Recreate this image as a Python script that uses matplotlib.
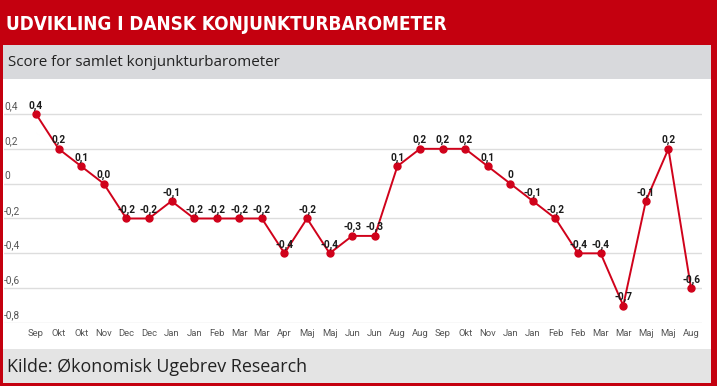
import matplotlib
matplotlib.use("Agg")
import matplotlib.pyplot as plt
from matplotlib.patches import Rectangle
from matplotlib.transforms import blended_transform_factory

W, H = 717, 386

# data
months = ["Sep", "Okt", "Okt", "Nov", "Dec", "Dec", "Jan", "Jan", "Feb", "Mar",
          "Mar", "Apr", "Maj", "Maj", "Jun", "Jun", "Aug", "Aug", "Sep", "Okt",
          "Nov", "Jan", "Jan", "Feb", "Feb", "Mar", "Mar", "Maj", "Maj", "Aug"]
score = [0.4, 0.2, 0.1, 0.0, -0.2, -0.2, -0.1, -0.2, -0.2, -0.2,
         -0.2, -0.4, -0.2, -0.4, -0.3, -0.3, 0.1, 0.2, 0.2, 0.2,
         0.1, 0.0, -0.1, -0.2, -0.4, -0.4, -0.7, -0.1, 0.2, -0.6]
point_labels = ["0,4", "0,2", "0,1", "0,0", "-0,2", "-0,2", "-0,1", "-0,2", "-0,2", "-0,2",
                "-0,2", "-0,4", "-0,2", "-0,4", "-0,3", "-0,3", "0,1", "0,2", "0,2", "0,2",
                "0,1", "0", "-0,1", "-0,2", "-0,4", "-0,4", "-0,7", "-0,1", "0,2", "-0,6"]
y_ticks = [0.4, 0.2, 0.0, -0.2, -0.4, -0.6, -0.8]
y_tick_labels = ["0,4", "0,2", "0", "-0,2", "-0,4", "-0,6", "-0,8"]

title = "UDVIKLING I DANSK KONJUNKTURBAROMETER"
subtitle = "Score for samlet konjunkturbarometer"
source = "Kilde: Økonomisk Ugebrev Research"

red = "#c4000f"
line_red = "#d0021b"


def box(x0, y0, x1, y1):
    # pixel box (top-left origin) -> figure fractions
    return (x0 / W, 1 - y1 / H), (x1 - x0) / W, (y1 - y0) / H


fig = plt.figure(figsize=(W / 100, H / 100), dpi=100)
fig.patch.set_facecolor("white")

for (x0, y0, x1, y1, c) in [(0, 0, W, 45, red), (0, 45, W, 79, "#d8d9dc"),
                            (0, 349, W, H, "#e4e4e4")]:
    xy, w, h = box(x0, y0, x1, y1)
    fig.patches.append(Rectangle(xy, w, h, transform=fig.transFigure,
                                 facecolor=c, edgecolor="none", zorder=0))
# red frame
for (x0, y0, x1, y1) in [(0, 0, 3, H), (711, 0, W, H), (0, 383, W, H)]:
    xy, w, h = box(x0, y0, x1, y1)
    fig.patches.append(Rectangle(xy, w, h, transform=fig.transFigure,
                                 facecolor=red, edgecolor="none", zorder=5))

ttl = fig.text(6 / W, 1 - 25 / H, title, color="white", fontsize=22, fontweight="bold",
               fontstretch="condensed", family=["Liberation Sans Narrow", "DejaVu Sans"],
               va="center", ha="left")
# shrink the title to the width it has in the original (about 440 px)
fig.canvas.draw()
tw = ttl.get_window_extent().width
if tw > 440:
    ttl.set_fontsize(22 * 440 / tw)

fig.text(8 / W, 1 - 62 / H, subtitle, color="#222222", fontsize=10.9,
         family=["Open Sans", "DejaVu Sans"], va="center", ha="left")
fig.text(7 / W, 1 - 367 / H, source, color="#222222", fontsize=12.9,
         family=["Open Sans", "DejaVu Sans"], va="center", ha="left")

ax = fig.add_axes([4 / W, 1 - 323 / H, (702 - 4) / W, (323 - 85) / H])
ax.set_facecolor("none")
x = list(range(len(score)))
ax.plot(x, score, color=line_red, lw=1.4, marker="o", ms=5,
        markerfacecolor=line_red, markeredgecolor=line_red, zorder=3)

for xi, yi, lab in zip(x, score, point_labels):
    ax.annotate(lab, (xi, yi), xytext=(0, 2.5), textcoords="offset points",
                ha="center", va="bottom", fontsize=7.3, color="#1a1a1a",
                family=["Roboto", "DejaVu Sans"], fontweight="bold", zorder=4)

ax.set_xlim(-32 / 22.59, 29 + 11 / 22.59)
ax.set_ylim(-0.8, 0.4 + 29 / 174.2)
ax.set_yticks(y_ticks)
ax.set_yticklabels([])
ax.grid(axis="y", color="#dddddd", lw=1)
ax.set_axisbelow(True)
ax.tick_params(axis="y", length=0)
trans = blended_transform_factory(ax.transAxes, ax.transData)
for yv, lab in zip(y_ticks, y_tick_labels):
    ax.annotate(lab, (0, yv), xycoords=trans, xytext=(0, 2), textcoords="offset points",
                ha="left", va="bottom", fontsize=7.3, color="#555555",
                family=["Roboto", "DejaVu Sans"])

ax.set_xticks(x)
ax.set_xticklabels(months, fontsize=6.8, color="#555555", family=["Roboto", "DejaVu Sans"])
ax.tick_params(axis="x", length=0, pad=4)
for s in ax.spines.values():
    s.set_visible(False)

fig.savefig("out.png", dpi=100)
